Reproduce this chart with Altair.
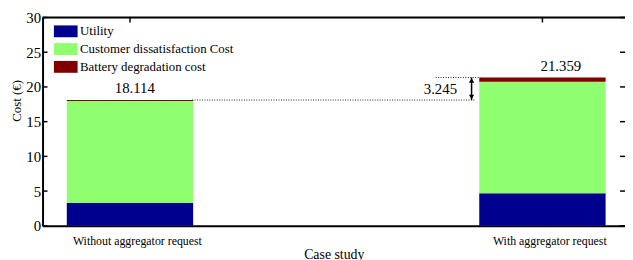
import altair as alt
import pandas as pd

# ---- data ----
cases = ["Without aggregator request", "With aggregator request"]
case_pos = [1, 2]
components = ["Utility", "Customer dissatisfaction Cost", "Battery degradation cost"]
colors = ["#00008F", "#8FFF70", "#800000"]
utility = [3.3, 4.7]
dissatisfaction = [14.664, 16.059]
battery = [0.15, 0.6]
totals = [18.114, 21.359]
difference = 3.245
y_ticks = [0, 5, 10, 15, 20, 25, 30]

FONT = "Liberation Serif"
W, H = 590, 211
X_DOMAIN = [0.8, 2.18824]
PX_PER_UNIT = W / (X_DOMAIN[1] - X_DOMAIN[0])
BAR_PX = 128
half = (BAR_PX / 2) / PX_PER_UNIT

rows = []
for ci, (c, p) in enumerate(zip(cases, case_pos)):
    for k, (comp, vals) in enumerate(zip(components, [utility, dissatisfaction, battery])):
        rows.append({"case": c, "pos": p, "component": comp, "value": vals[ci], "ord": k})
bars_df = pd.DataFrame(rows)

label_expr = "datum.value == 1 ? '%s' : '%s'" % (cases[0], cases[1])

xscale = alt.Scale(domain=X_DOMAIN, nice=False, zero=False)
yscale = alt.Scale(domain=[0, 30], nice=False)

xaxis = alt.Axis(values=case_pos, labelExpr=label_expr, ticks=False,
                 grid=False, domainColor="black", domainWidth=2,
                 labelFont=FONT, labelFontSize=12, labelColor="black",
                 labelPadding=10, labelOffset=7, labelOverlap=False,
                 titleFont=FONT, titleFontSize=14, titleFontWeight="normal",
                 titleColor="black", titlePadding=1, title="Case study")
yaxis = alt.Axis(values=y_ticks, ticks=False, grid=False,
                 domainColor="black", domainWidth=2,
                 labelFont=FONT, labelFontSize=15, labelColor="black",
                 labelPadding=2, labelOverlap=False, labelFlush=False,
                 titleFont=FONT, titleFontSize=13, titleFontWeight="normal",
                 titleColor="black", titleX=-19, titleY=84, title="Cost (€)")


def X(field):
    return alt.X(field, scale=xscale, axis=xaxis)


def Y(field, **kw):
    return alt.Y(field, scale=yscale, axis=yaxis, **kw)


bars = alt.Chart(bars_df).mark_bar(size=BAR_PX).encode(
    x=X("pos:Q"),
    y=Y("value:Q", stack="zero"),
    color=alt.Color("component:N",
                    scale=alt.Scale(domain=components, range=colors),
                    legend=alt.Legend(orient="none", legendX=17, legendY=7.5, title=None,
                                      symbolType="M-2,-1H2V1H-2Z", symbolSize=144,
                                      symbolStrokeWidth=0, symbolOpacity=1,
                                      labelFont=FONT, labelFontSize=13, labelColor="black",
                                      labelOffset=8, rowPadding=4, padding=0)),
    order=alt.Order("ord:Q"),
)

# total labels above bars
tot_df = pd.DataFrame({"pos": [case_pos[0] + 5 / PX_PER_UNIT, case_pos[1] + 19 / PX_PER_UNIT],
                       "value": totals})
tot_text = alt.Chart(tot_df).mark_text(font=FONT, fontSize=15, baseline="alphabetic",
                                       dy=-7, color="black").encode(
    x=X("pos:Q"), y=Y("value:Q"),
    text=alt.Text("value:Q", format=".3f"))

# dotted reference lines
arrow_x = 1.8282
dot_df = pd.DataFrame({
    "pos": [case_pos[0] + half, 1.7412],
    "x2": [1.8353, case_pos[1] - half],
    "value": totals,
})
dots = alt.Chart(dot_df).mark_rule(strokeDash=[1, 1.5], strokeWidth=1, color="#222").encode(
    x=X("pos:Q"), x2="x2:Q", y=Y("value:Q"))

# double arrow
arr_df = pd.DataFrame({"pos": [arrow_x], "value": [totals[0]], "y2": [totals[1]]})
arrow_line = alt.Chart(arr_df).mark_rule(strokeWidth=1.5, color="black").encode(
    x=X("pos:Q"), y=Y("value:Q"), y2="y2:Q")
head_up = alt.Chart(pd.DataFrame({"pos": [arrow_x], "value": [totals[1]]})).mark_point(
    shape="triangle-up", filled=True, size=28, color="black", opacity=1, yOffset=3).encode(
    x=X("pos:Q"), y=Y("value:Q"))
head_down = alt.Chart(pd.DataFrame({"pos": [arrow_x], "value": [totals[0]]})).mark_point(
    shape="triangle-down", filled=True, size=28, color="black", opacity=1, yOffset=-3).encode(
    x=X("pos:Q"), y=Y("value:Q"))

diff_df = pd.DataFrame({"pos": [1.793], "value": [(totals[0] + totals[1]) / 2],
                        "t": ["%.3f" % difference]})
diff_text = alt.Chart(diff_df).mark_text(font=FONT, fontSize=15, align="right",
                                         baseline="middle", color="black").encode(
    x=X("pos:Q"), y=Y("value:Q"), text="t:N")

# frame: top spine and inward ticks
top_spine = alt.Chart(pd.DataFrame({"value": [30]})).mark_rule(color="black", strokeWidth=2).encode(
    y=Y("value:Q"))
left_ticks = alt.Chart(pd.DataFrame({"value": y_ticks})).mark_rule(color="black", strokeWidth=1.5).encode(
    y=Y("value:Q"), x=alt.value(0), x2=alt.value(5))
right_ticks = alt.Chart(pd.DataFrame({"value": y_ticks})).mark_rule(color="black", strokeWidth=1.5).encode(
    y=Y("value:Q"), x=alt.value(W - 5), x2=alt.value(W))
top_ticks = alt.Chart(pd.DataFrame({"pos": case_pos})).mark_rule(color="black", strokeWidth=1.5).encode(
    x=X("pos:Q"), y=alt.value(0), y2=alt.value(5))

chart = alt.layer(bars, tot_text, dots, arrow_line, head_up, head_down, diff_text,
                  top_spine, left_ticks, right_ticks, top_ticks).properties(
    width=W, height=H,
    autosize=alt.AutoSizeParams(type="none"),
    padding={"left": 35, "top": 8, "right": 0, "bottom": 33},
).configure_view(stroke=None).configure(background="white")

chart.save("out.html", embed_options={"renderer": "svg", "actions": False})
